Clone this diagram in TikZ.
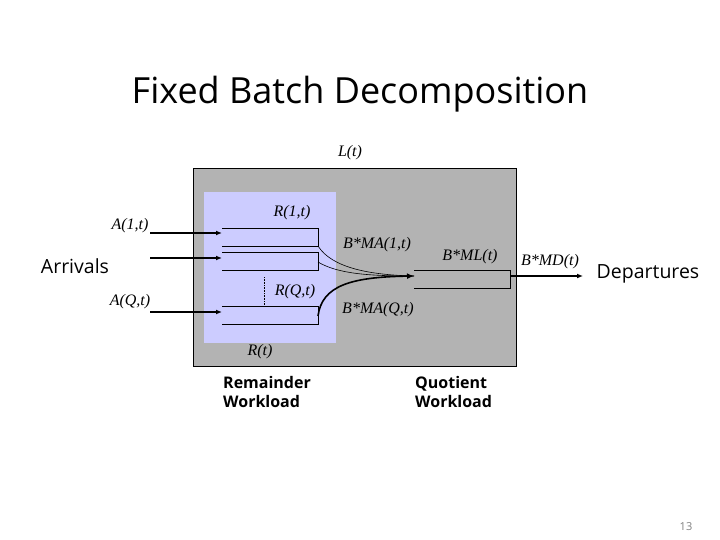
\documentclass[tikz,border=0pt]{standalone}
\usepackage{fontspec}
\setmainfont{Liberation Serif}
\newfontfamily\comic{Open Sans}
\usetikzlibrary{arrows.meta}
\definecolor{boxgray}{RGB}{179,179,179}
\definecolor{boxblue}{RGB}{204,204,255}
\tikzset{
  lbl/.style={font=\fontsize{16}{18}\selectfont\itshape, inner sep=0pt},
  big/.style={font=\comic\fontsize{19.5}{22}\selectfont, inner sep=0pt},
  small/.style={font=\comic\fontsize{16}{19}\selectfont\bfseries, inner sep=0pt, align=left},
  arr/.style={line width=1.2pt, -{Latex[length=6pt,width=5pt]}},
  qline/.style={line width=0.8pt},
}
\begin{document}
\begin{tikzpicture}[x=1pt,y=-1pt]
\useasboundingbox (0,0) rectangle (720,540);
% title
\node[font=\comic\fontsize{36}{40}\selectfont, inner sep=0pt] (title) at (360,94) {Fixed Batch Decomposition};
% boxes
\node[draw=black, line width=0.8pt, fill=boxgray, minimum width=323pt, minimum height=198pt, inner sep=0pt, anchor=north west] (L) at (193,168) {};
\node[fill=boxblue, minimum width=132pt, minimum height=151pt, inner sep=0pt, anchor=north west] (R) at (204,192) {};
% queues
\coordinate (q1tl) at (222,228); \coordinate (q1tr) at (318,228);
\coordinate (q1br) at (318,246); \coordinate (q1bl) at (222,246);
\coordinate (q2tl) at (222,252); \coordinate (q2tr) at (318,252);
\coordinate (q2br) at (318,270); \coordinate (q2bl) at (222,270);
\coordinate (qQtl) at (222,306); \coordinate (qQtr) at (318,306);
\coordinate (qQbr) at (318,324); \coordinate (qQbl) at (222,324);
\draw[qline] (q1tl) -- (q1tr) -- (q1br) -- (q1bl);
\draw[qline] (q2tl) -- (q2tr) -- (q2br) -- (q2bl);
\draw[qline] (qQtl) -- (qQtr) -- (qQbr) -- (qQbl);
\coordinate (mltl) at (414,270); \coordinate (mltr) at (510,270);
\coordinate (mlbr) at (510,288); \coordinate (mlbl) at (414,288);
\draw[qline] (mltl) -- (mltr) -- (mlbr) -- (mlbl);
% dotted
\coordinate (d1) at (264,277); \coordinate (d2) at (264,305);
\draw[densely dotted, line width=0.6pt] (d1) -- (d2);
% arrival arrows
\coordinate (a1s) at (150,233); \coordinate (a1e) at (222,233);
\coordinate (a2s) at (150,258); \coordinate (a2e) at (222,258);
\coordinate (aQs) at (150,312); \coordinate (aQe) at (222,312);
\draw[arr] (a1s) -- (a1e);
\draw[arr] (a2s) -- (a2e);
\draw[arr] (aQs) -- (aQe);
% merging curves
\coordinate (c1) at (318,246);
\coordinate (c2) at (318,262);
\coordinate (cQ) at (318,316);
\coordinate (tip) at (414,276);
\draw[line width=0.6pt] (c1) .. controls (332,268) and (370,275) .. (tip);
\draw[line width=0.6pt] (c2) .. controls (338,274) and (370,276) .. (tip);
\draw[line width=1.6pt, -{Latex[length=7pt,width=6pt]}] (cQ) .. controls (322,286) and (350,277) .. (tip);
% departure arrow
\coordinate (ds) at (510,276); \coordinate (de) at (583,276);
\draw[arr] (ds) -- (de);
% labels
\node[lbl] (lL) at (350,153) {L(t)};
\node[lbl] (lR1) at (292,213) {R(1,t)};
\node[lbl] (lMA1) at (377,245) {B*MA(1,t)};
\node[lbl] (lML) at (470,257) {B*ML(t)};
\node[lbl] (lMD) at (550,262) {B*MD(t)};
\node[lbl] (lRQ) at (295,292) {R(Q,t)};
\node[lbl] (lMAQ) at (378,310) {B*MA(Q,t)};
\node[lbl] (lRt) at (260,352) {R(t)};
\node[lbl] (lA1) at (130,226) {A(1,t)};
\node[lbl] (lAQ) at (130,302) {A(Q,t)};
\node[big] (arrv) at (75,266) {Arrivals};
\node[big] (dep) at (648,274) {Departures};
\node[small, anchor=north west] (rem) at (223,376) {Remainder\\Workload};
\node[small, anchor=north west] (quo) at (415,376) {Quotient\\Workload};
\node[font=\comic\fontsize{11}{12}\selectfont, text=gray, inner sep=0pt] (pg) at (686,527) {13};
\end{tikzpicture}
\end{document}
